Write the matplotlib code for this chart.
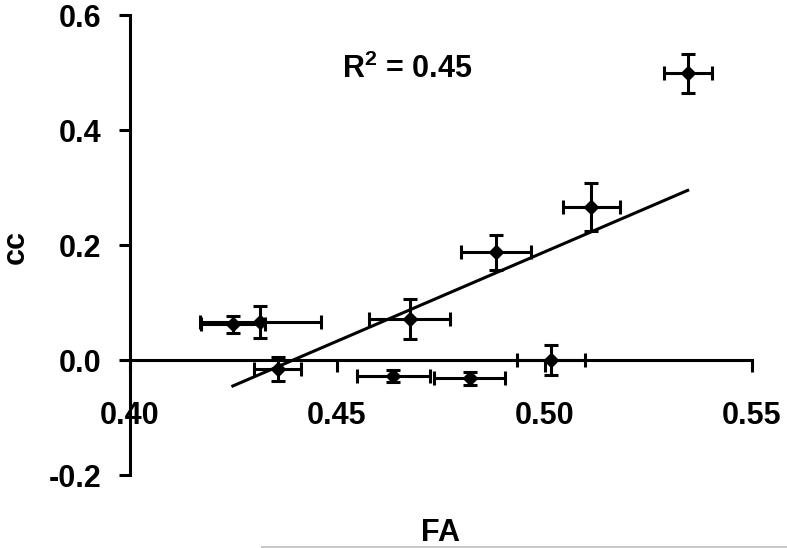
# Nuage FA / cc avec barres d'erreur et droite de régression

import numpy as np
import matplotlib.pyplot as plt
from matplotlib.lines import Line2D

plt.rcParams['font.family'] = ['Liberation Sans', 'DejaVu Sans']
plt.rcParams['font.weight'] = 'bold'
plt.rcParams['mathtext.fontset'] = 'custom'
plt.rcParams['mathtext.rm'] = 'Liberation Sans:bold'
plt.rcParams['mathtext.bf'] = 'Liberation Sans:bold'

# 1. Données
fa = [0.4249, 0.4315, 0.4357, 0.4675, 0.4636, 0.4820, 0.5016, 0.4883, 0.5113, 0.5345]
cc = [0.0621, 0.0656, -0.0157, 0.0713, -0.0278, -0.0318, 0.0000, 0.1873, 0.2656, 0.4986]
fa_err = [0.0077, 0.0146, 0.0056, 0.0097, 0.0087, 0.0086, 0.0082, 0.0085, 0.0068, 0.0058]
cc_err = [0.0153, 0.0281, 0.0203, 0.0348, 0.0096, 0.0110, 0.0267, 0.0304, 0.0420, 0.0339]

x_ticks = [0.40, 0.45, 0.50, 0.55]
y_ticks = [-0.2, 0.0, 0.2, 0.4, 0.6]

fa = np.array(fa)
cc = np.array(cc)

# 2. Régression linéaire
pente, origine = np.polyfit(fa, cc, 1)
r2 = np.corrcoef(fa, cc)[0, 1] ** 2
x_fit = np.array([fa.min(), fa.max()])
y_fit = pente * x_fit + origine

# 3. Figure
fig = plt.figure(figsize=(7.87, 5.48), dpi=100)
ax = fig.add_axes([129.5 / 787, 0.1332, (752 - 129.5) / 787, 0.8394])

ax.errorbar(fa, cc, xerr=fa_err, yerr=cc_err, fmt='D', color='black',
            ms=7.5, elinewidth=2.2, capsize=4.7, capthick=2.2, zorder=3)
ax.plot(x_fit, y_fit, color='black', lw=2.2, zorder=2)

ax.set_xlim(0.40, 0.55)
ax.set_ylim(-0.2, 0.6)

# Axes à la manière d'Excel : l'axe X croise en y = 0
ax.spines['top'].set_visible(False)
ax.spines['right'].set_visible(False)
ax.spines['bottom'].set_position(('data', 0))
ax.spines['bottom'].set_linewidth(2.2)
ax.spines['left'].set_linewidth(2.2)

ax.set_xticks(x_ticks)
ax.set_xticklabels([f"{t:.2f}" for t in x_ticks])
ax.set_yticks(y_ticks)
ax.set_yticklabels([f"{t:.1f}" for t in y_ticks])
ax.tick_params(axis='x', direction='out', length=8.5, width=2.2, pad=21, labelsize=22)
ax.tick_params(axis='y', direction='out', length=8, width=2.2, pad=12, labelsize=22)

ax.text(0.4513, 0.5056, f"R$^{{2}}$ = {r2:.2f}", fontsize=22, fontweight='bold',
        ha='left', va='center')

fig.text(441 / 787, 1 - 533 / 548, "FA", fontsize=22, fontweight='bold',
         ha='center', va='center')
fig.text(15.5 / 787, 1 - 247 / 548, "cc", fontsize=22, fontweight='bold',
         ha='center', va='center', rotation=90)

# Trait gris en bas de l'image
fig.add_artist(Line2D([262 / 787, 1.0], [0.002, 0.002], color='#c8c8c8', lw=1.5))

fig.savefig('out.png', dpi=100)
